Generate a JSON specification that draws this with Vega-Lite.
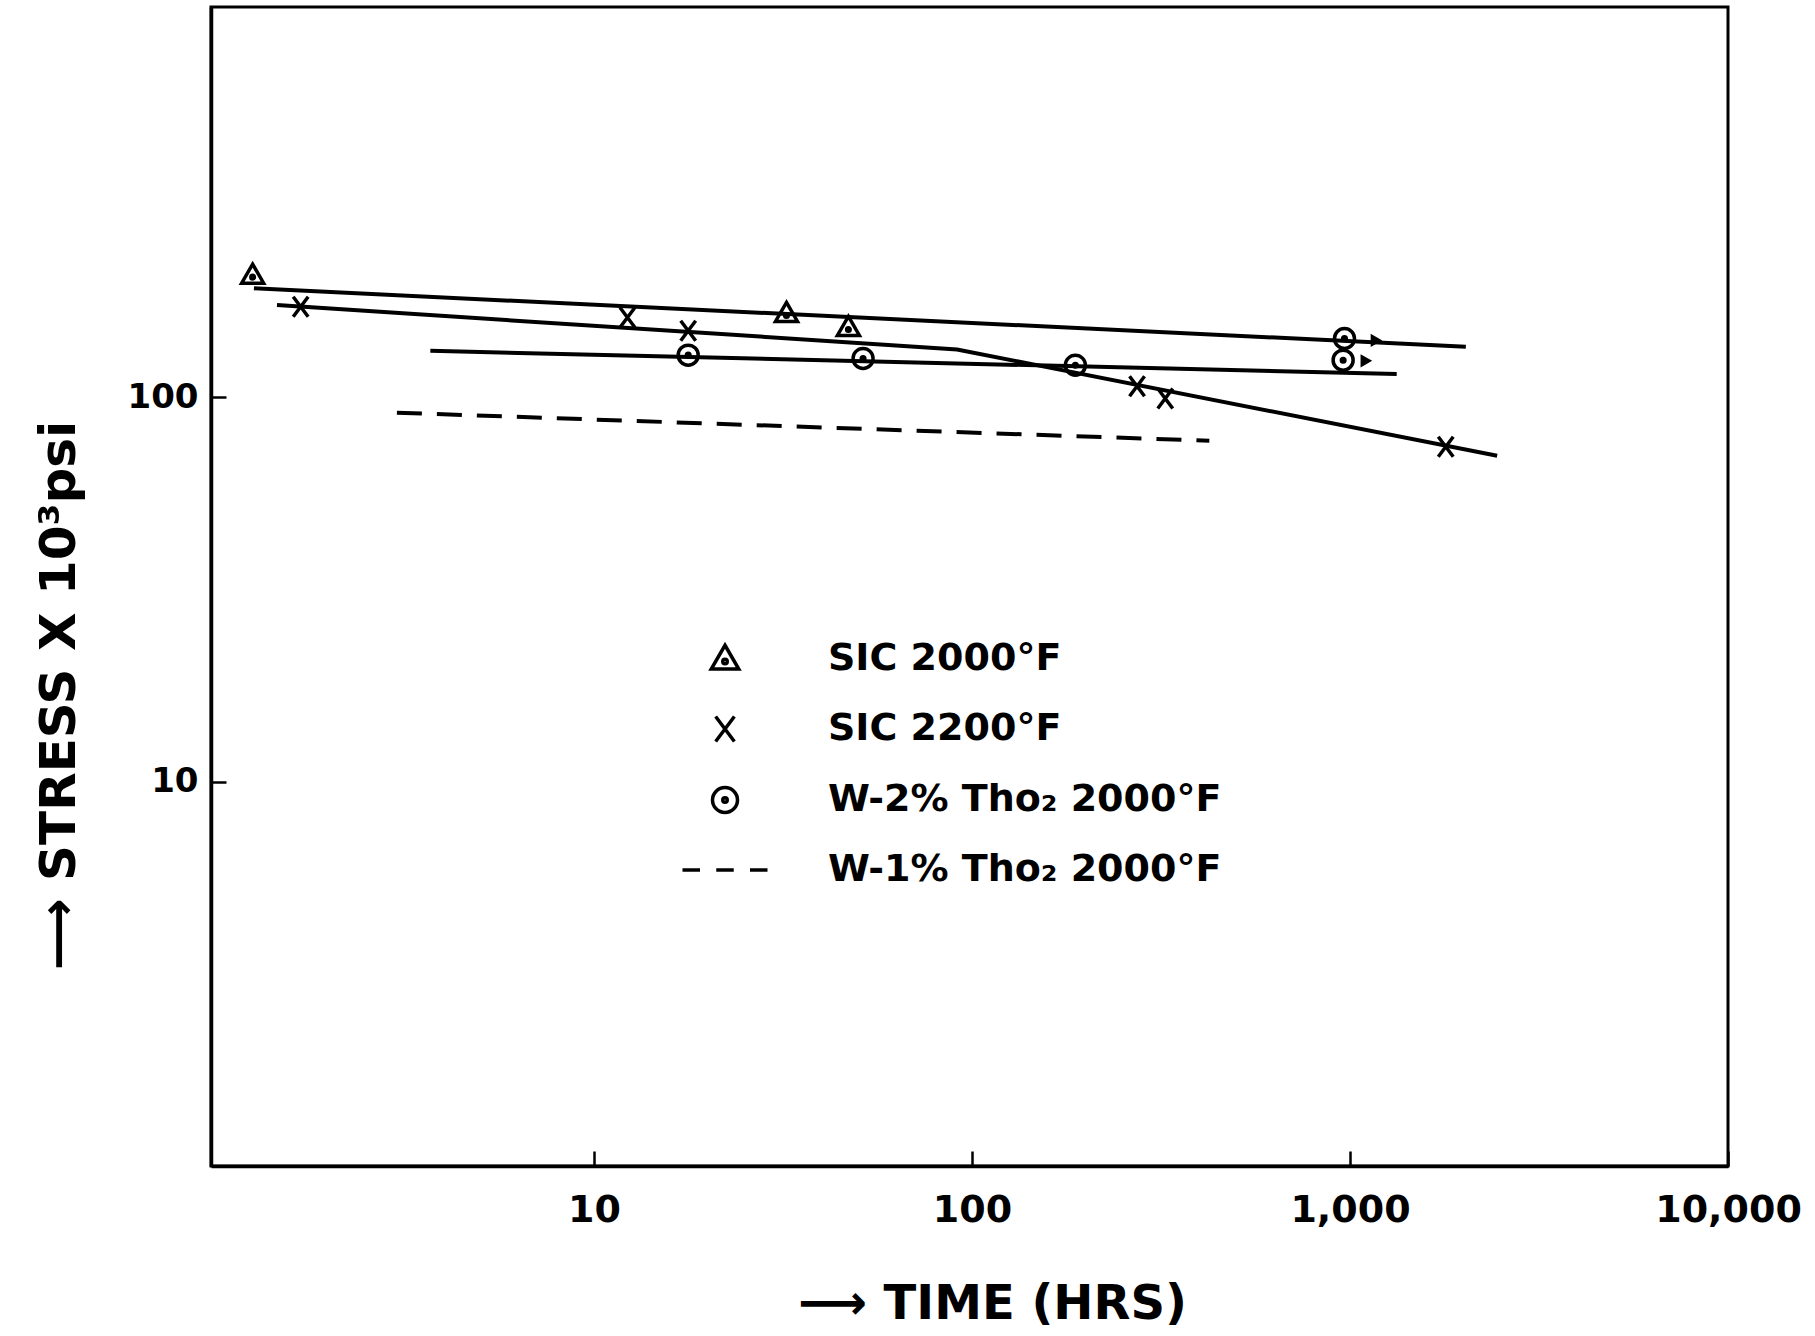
{
  "$schema": "https://vega.github.io/schema/vega-lite/v6.json",
  "autosize": {"type": "none"},
  "padding": {"left": 211, "top": 7, "right": 87, "bottom": 170},
  "width": 1517,
  "height": 1159,
  "background": "white",
  "config": {
    "view": {"stroke": "black", "strokeWidth": 3},
    "axis": {
      "grid": false,
      "domainColor": "black",
      "domainWidth": 3.5,
      "tickColor": "black",
      "tickWidth": 2.5,
      "tickSize": -15,
      "labelColor": "black",
      "labelFont": "DejaVu Sans",
      "labelFontWeight": "bold",
      "labelFlush": false,
      "labelOverlap": false,
      "titleColor": "black",
      "titleFont": "DejaVu Sans",
      "titleFontWeight": "bold",
      "titleFontSize": 50
    },
    "legend": {
      "labelFont": "DejaVu Sans",
      "labelFontWeight": "bold",
      "labelFontSize": 38,
      "labelColor": "black",
      "labelLimit": 0
    }
  },
  "datasets": {
    "points": [
      {"series": "SIC 2000°F", "time": 1.25, "stress": 207.7},
      {"series": "SIC 2000°F", "time": 32.3, "stress": 165.1},
      {"series": "SIC 2000°F", "time": 47.1, "stress": 151.8},
      {"series": "SIC 2200°F", "time": 1.675, "stress": 171.8},
      {"series": "SIC 2200°F", "time": 12.26, "stress": 161.2},
      {"series": "SIC 2200°F", "time": 17.75, "stress": 148.8},
      {"series": "SIC 2200°F", "time": 273.3, "stress": 106.8},
      {"series": "SIC 2200°F", "time": 324.5, "stress": 99.2},
      {"series": "SIC 2200°F", "time": 1792, "stress": 74.3},
      {"series": "W-2% Tho₂ 2000°F", "time": 17.75, "stress": 128.6},
      {"series": "W-2% Tho₂ 2000°F", "time": 51.5, "stress": 126.1},
      {"series": "W-2% Tho₂ 2000°F", "time": 187.7, "stress": 121.1},
      {"series": "W-2% Tho₂ 2000°F", "time": 967, "stress": 142.1},
      {"series": "W-2% Tho₂ 2000°F", "time": 959, "stress": 124.8}
    ],
    "lines": [
      {"series": "SIC 2000°F", "time": 1.26, "stress": 191.9},
      {"series": "SIC 2000°F", "time": 2025, "stress": 135.2},
      {"series": "SIC 2200°F", "time": 1.45, "stress": 173.6},
      {"series": "SIC 2200°F", "time": 91.3, "stress": 133.1},
      {"series": "SIC 2200°F", "time": 2451, "stress": 70.4},
      {"series": "W-2% Tho₂ 2000°F", "time": 3.69, "stress": 132.0},
      {"series": "W-2% Tho₂ 2000°F", "time": 1329, "stress": 114.9}
    ],
    "dashed": [
      {"series": "W-1% Tho₂ 2000°F", "time": 3.01, "stress": 91.1},
      {"series": "W-1% Tho₂ 2000°F", "time": 424.5, "stress": 77.0}
    ],
    "runouts": [
      {"time": 1175, "stress": 140.5},
      {"time": 1105, "stress": 124.3}
    ]
  },
  "layer": [
    {
      "data": {"name": "lines"},
      "mark": {"type": "line", "color": "black", "strokeWidth": 4},
      "encoding": {
        "x": {
          "field": "time", "type": "quantitative",
          "scale": {"type": "log", "domain": [0.97, 10000], "nice": false},
          "axis": {
            "values": [10, 100, 1000, 10000],
            "format": ",d",
            "labelFontSize": 38,
            "labelPadding": 40,
            "title": "⟶ TIME (HRS)",
            "titleFontSize": 48,
            "titleX": 781,
            "titleY": 138,
            "titleAlign": "center",
            "titleBaseline": "middle"
          }
        },
        "y": {
          "field": "stress", "type": "quantitative",
          "scale": {"type": "log", "domain": [1, 1035], "nice": false},
          "axis": {
            "values": [10, 100],
            "format": "d",
            "labelFontSize": 34,
            "labelPadding": 28,
            "title": "⟶ STRESS X 10³psi",
            "titleAngle": 270,
            "titleX": -152,
            "titleY": 688,
            "titleAlign": "center",
            "titleBaseline": "middle"
          }
        },
        "detail": {"field": "series"}
      }
    },
    {
      "data": {"name": "dashed"},
      "mark": {"type": "line", "color": "black", "strokeWidth": 4, "strokeDash": [25, 15]},
      "encoding": {
        "x": {"field": "time", "type": "quantitative"},
        "y": {"field": "stress", "type": "quantitative"}
      }
    },
    {
      "data": {"name": "points"},
      "mark": {"type": "point", "filled": false, "stroke": "black", "strokeWidth": 3.5, "size": 400, "opacity": 1},
      "encoding": {
        "x": {"field": "time", "type": "quantitative"},
        "y": {"field": "stress", "type": "quantitative"},
        "shape": {
          "field": "series", "type": "nominal",
          "scale": {
            "domain": ["SIC 2000°F", "SIC 2200°F", "W-2% Tho₂ 2000°F", "W-1% Tho₂ 2000°F"],
            "range": [
              "M0,-1.1L1.1,0.8L-1.1,0.8Z M0,0.2m-0.18,0a0.18,0.18 0 1,0 0.36,0a0.18,0.18 0 1,0 -0.36,0",
              "M-0.75,-1L0.75,1M0.75,-1L-0.75,1",
              "M-1,0a1,1 0 1,0 2,0a1,1 0 1,0 -2,0M-0.18,0a0.18,0.18 0 1,0 0.36,0a0.18,0.18 0 1,0 -0.36,0",
              "M-3.4,0H-2.0M-0.7,0H0.7M2.0,0H3.4"
            ]
          },
          "legend": {
            "title": null,
            "orient": "none",
            "legendX": 495,
            "legendY": 633,
            "padding": 0,
            "symbolSize": 625,
            "symbolStrokeWidth": 3.5,
            "symbolStrokeColor": "black",
            "symbolFillColor": "transparent",
            "labelOffset": 84,
            "rowPadding": 31
          }
        }
      }
    },
    {
      "data": {"name": "runouts"},
      "mark": {"type": "point", "shape": "triangle-right", "filled": true, "color": "black", "size": 180, "opacity": 1},
      "encoding": {
        "x": {"field": "time", "type": "quantitative"},
        "y": {"field": "stress", "type": "quantitative"}
      }
    }
  ]
}
